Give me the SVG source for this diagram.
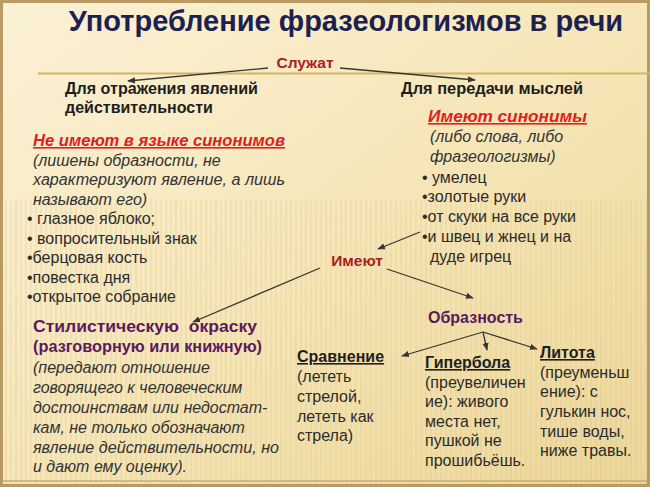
<svg xmlns="http://www.w3.org/2000/svg" width="650" height="487" viewBox="0 0 650 487">
<defs>
<linearGradient id="bg" x1="0" y1="0" x2="1" y2="1">
<stop offset="0" stop-color="#fbf1d6"/>
<stop offset="0.5" stop-color="#f6e6b8"/>
<stop offset="1" stop-color="#ecd79a"/>
</linearGradient>
<pattern id="stripes" width="5" height="10" patternUnits="userSpaceOnUse">
<rect x="0" y="0" width="2" height="10" fill="#c9a860" opacity="0.12"/>
</pattern>
<marker id="ah" viewBox="0 0 10 10" refX="9" refY="5" markerWidth="6" markerHeight="6" orient="auto-start-reverse">
<path d="M0,1 L10,5 L0,9 z" fill="#3a3530"/>
</marker>
<style>
text{font-family:"Liberation Sans",Arial,sans-serif;fill:#2b2b2b;}
.title{font-size:29px;font-weight:bold;fill:#1c2150;}
.red{font-size:15.5px;font-weight:bold;fill:#a82020;}
.hd{font-size:16px;font-weight:bold;fill:#1e1e1e;}
.rhd{font-size:16px;font-weight:bold;font-style:italic;fill:#e02020;text-decoration:underline;}
.it{font-size:16px;font-style:italic;fill:#333;}
.tx{font-size:16px;fill:#2b2b2b;}
.pu{font-size:16px;font-weight:bold;fill:#5a1a5e;}
.uh{font-size:16px;font-weight:bold;fill:#1e1e1e;text-decoration:underline;}
.ln{stroke:#3a3530;stroke-width:1.3;fill:none;marker-end:url(#ah);}
</style>
</defs>
<rect width="650" height="487" fill="url(#bg)"/>
<rect y="200" width="650" height="287" fill="url(#stripes)"/>
<rect x="1.5" y="1.5" width="647" height="484" fill="none" stroke="#b99a62" stroke-width="3"/>
<line x1="3" y1="481" x2="647" y2="481" stroke="#c8ad74" stroke-width="1.5"/>
<line x1="38" y1="73.5" x2="650" y2="73.5" stroke="#d4b464" stroke-width="2"/>

<g id="title"><text class="title" x="346" y="31" text-anchor="middle">Употребление фразеологизмов в речи</text></g>

<g id="connectors">
<polyline class="ln" points="268,68 128,81"/>
<polyline class="ln" points="340,68 475,80"/>
<polyline class="ln" points="420,232 378,249"/>
<polyline class="ln" points="320,268 193,322"/>
<polyline class="ln" points="387,269 473,298"/>
<polyline class="ln" points="483,332 402,356"/>
<polyline class="ln" points="483,332 487,350"/>
<polyline class="ln" points="483,332 537,349"/>
</g>

<g id="serve"><text class="red" x="305" y="68" text-anchor="middle">Служат</text></g>

<g id="reflect">
<text class="hd" x="65" y="94" textLength="193" lengthAdjust="spacingAndGlyphs">Для отражения явлений</text>
<text class="hd" x="65" y="113">действительности</text>
</g>
<g id="transfer"><text class="hd" x="401" y="94" textLength="182" lengthAdjust="spacingAndGlyphs">Для передачи мыслей</text></g>

<g id="nosyn">
<text class="rhd" x="33" y="146" textLength="252" lengthAdjust="spacingAndGlyphs">Не имеют в языке синонимов</text>
<text class="it" x="33" y="166">(лишены образности, не</text>
<text class="it" x="33" y="185" textLength="252" lengthAdjust="spacingAndGlyphs">характеризуют явление, а лишь</text>
<text class="it" x="33" y="205">называют его)</text>
<text class="tx" x="27" y="224">• глазное яблоко;</text>
<text class="tx" x="27" y="244">• вопросительный знак</text>
<text class="tx" x="27" y="263">•берцовая кость</text>
<text class="tx" x="27" y="283">•повестка дня</text>
<text class="tx" x="27" y="302">•открытое собрание</text>
</g>

<g id="syn">
<text class="rhd" x="428" y="122" textLength="159" lengthAdjust="spacingAndGlyphs">Имеют синонимы</text>
<text class="it" x="430" y="142">(либо слова, либо</text>
<text class="it" x="430" y="162">фразеологизмы)</text>
<text class="tx" x="422" y="183">• умелец</text>
<text class="tx" x="422" y="202">•золотые руки</text>
<text class="tx" x="422" y="222">•от скуки на все руки</text>
<text class="tx" x="422" y="242">•и швец и жнец и на</text>
<text class="tx" x="430" y="262">дуде игрец</text>
</g>

<g id="have"><text class="red" x="357" y="266" text-anchor="middle">Имеют</text></g>

<g id="style">
<text class="pu" x="33" y="332" style="white-space:pre" textLength="224" lengthAdjust="spacingAndGlyphs">Стилистическую  окраску</text>
<text class="pu" x="33" y="352" textLength="229" lengthAdjust="spacingAndGlyphs">(разговорную или книжную)</text>
<text class="it" x="33" y="373">(передают отношение</text>
<text class="it" x="33" y="393">говорящего к человеческим</text>
<text class="it" x="33" y="413">достоинствам или недостат-</text>
<text class="it" x="33" y="433">кам, не только обозначают</text>
<text class="it" x="33" y="453" textLength="246" lengthAdjust="spacingAndGlyphs">явление действительности, но</text>
<text class="it" x="33" y="472">и дают ему оценку).</text>
</g>

<g id="imagery"><text class="pu" x="428" y="323">Образность</text></g>

<g id="comparison">
<text class="uh" x="297" y="362">Сравнение</text>
<text class="tx" x="297" y="382">(лететь</text>
<text class="tx" x="297" y="402">стрелой,</text>
<text class="tx" x="297" y="422">лететь как</text>
<text class="tx" x="297" y="441">стрела)</text>
</g>

<g id="hyperbole">
<text class="uh" x="425" y="368">Гипербола</text>
<text class="tx" x="425" y="388">(преувеличен</text>
<text class="tx" x="425" y="407">ие): живого</text>
<text class="tx" x="425" y="427">места нет,</text>
<text class="tx" x="425" y="446">пушкой не</text>
<text class="tx" x="425" y="466">прошибьёшь.</text>
</g>

<g id="litotes">
<text class="uh" x="540" y="358">Литота</text>
<text class="tx" x="540" y="378">(преуменьш</text>
<text class="tx" x="540" y="397">ение): с</text>
<text class="tx" x="540" y="417">гулькин нос,</text>
<text class="tx" x="540" y="437">тише воды,</text>
<text class="tx" x="540" y="456">ниже травы.</text>
</g>
</svg>
